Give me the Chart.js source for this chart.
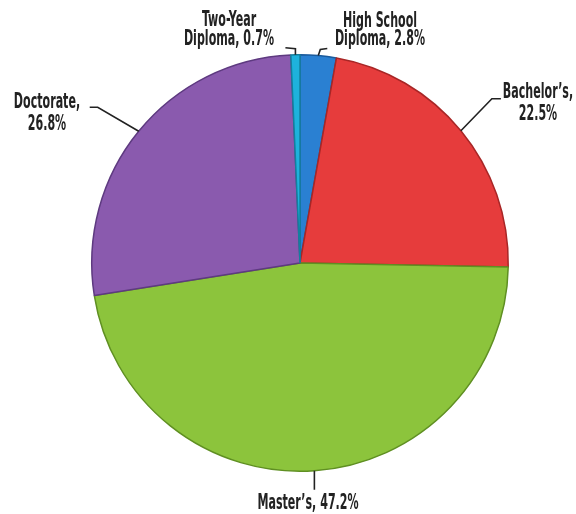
<!DOCTYPE html>
<html>
<head>
<meta charset="utf-8">
<script src="https://cdn.jsdelivr.net/npm/chart.js@4"></script>
<style>
  html, body { margin: 0; padding: 0; background: #fff; }
  #wrap { width: 576px; height: 514px; }
</style>
</head>
<body>
<div id="wrap"><canvas id="degreeChart" width="576" height="514"></canvas></div>
<script>
// Data
const categories = ['High School Diploma', "Bachelor's", "Master's", 'Doctorate', 'Two-Year Diploma'];
const shares = [2.8, 22.5, 47.2, 26.8, 0.7];
const labelLines = [
    ['High School', 'Diploma, 2.8%'],
    ['Bachelor\u2019s,', '22.5%'],
    ['Master\u2019s, 47.2%'],
    ['Doctorate,', '26.8%'],
    ['Two-Year', 'Diploma, 0.7%']
];

const fills = ['#2a80d2', '#e63c3c', '#8cc43c', '#8a5aae', '#1eb2dc'];
const edges = ['#1a5a9c', '#a82626', '#5f8f22', '#5e3a80', '#13809e'];

// where each callout goes, relative to the slice edge (leader) and absolute text spot
const callouts = [
    { leader: [[2, -6], [9, -7]], x: 380, ys: [27, 45] },
    { leader: [[31, -32], [40, -32]], x: 538, ys: [98, 120] },
    { leader: [[0, 19]], x: 308, ys: [509] },
    { leader: [[-41, -24], [-49, -24]], x: 47, ys: [108, 130] },
    { leader: [[0, -6], [-10, -7]], x: 229, ys: [26, 45] }
];

const calloutPlugin = {
    id: 'callouts',
    afterDraw(chart) {
        const ctx = chart.ctx;
        const arcs = chart.getDatasetMeta(0).data;
        ctx.save();
        ctx.strokeStyle = '#222';
        ctx.lineWidth = 1.6;
        ctx.fillStyle = '#222';
        arcs.forEach(function (arc, i) {
            const p = arc.getProps(['x', 'y', 'startAngle', 'endAngle', 'outerRadius'], true);
            const mid = (p.startAngle + p.endAngle) / 2;
            const ex = p.x + Math.cos(mid) * p.outerRadius;
            const ey = p.y + Math.sin(mid) * p.outerRadius;
            const c = callouts[i];
            ctx.beginPath();
            ctx.moveTo(ex, ey);
            c.leader.forEach(function (d) { ctx.lineTo(ex + d[0], ey + d[1]); });
            ctx.stroke();

            ctx.font = "bold 22px 'Liberation Sans Narrow', 'DejaVu Sans Condensed', sans-serif";
            ctx.textAlign = 'center';
            ctx.textBaseline = 'alphabetic';
            labelLines[i].forEach(function (t, k) {
                ctx.save();
                ctx.translate(c.x, c.ys[k]);
                ctx.scale(0.56, 1);
                ctx.fillText(t, 0, 0);
                ctx.restore();
            });
        });
        ctx.restore();
    }
};

new Chart(document.getElementById('degreeChart'), {
    type: 'pie',
    data: {
        labels: categories,
        datasets: [{
            data: shares,
            backgroundColor: fills,
            borderColor: edges,
            borderWidth: 1.5
        }]
    },
    options: {
        responsive: false,
        animation: false,
        layout: { padding: { left: 80, right: 56, top: 54, bottom: 42 } },
        plugins: {
            legend: { display: false },
            tooltip: { enabled: false }
        }
    },
    plugins: [calloutPlugin]
});
</script>
</body>
</html>
